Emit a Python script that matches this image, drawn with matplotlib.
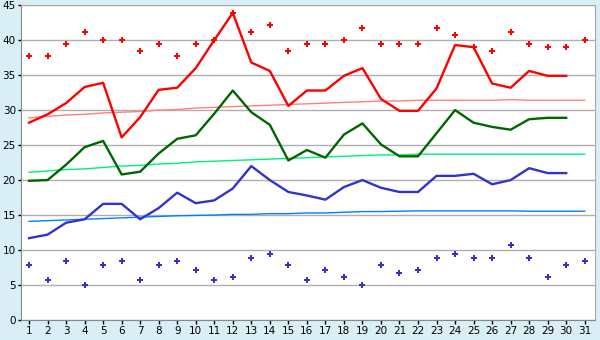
import numpy as np
import matplotlib
matplotlib.use("Agg")
import matplotlib.pyplot as plt

days = list(range(1, 32))

# daily max / mean / min (30 days observed)
t_max = [28.2, 29.4, 31.0, 33.3, 33.9, 26.1, 29.0, 32.9, 33.2, 36.0,
         40.0, 43.9, 36.8, 35.6, 30.6, 32.8, 32.8, 34.9, 36.0, 31.6,
         29.9, 29.9, 33.1, 39.3, 39.0, 33.8, 33.2, 35.6, 34.9, 34.9]
t_mean = [19.9, 20.0, 22.2, 24.7, 25.6, 20.8, 21.2, 23.8, 25.9, 26.4,
          29.5, 32.8, 29.7, 27.9, 22.8, 24.3, 23.2, 26.5, 28.1, 25.1,
          23.4, 23.4, 26.7, 30.0, 28.2, 27.6, 27.2, 28.7, 28.9, 28.9]
t_min = [11.7, 12.2, 13.9, 14.4, 16.6, 16.6, 14.4, 16.0, 18.2, 16.7,
         17.1, 18.8, 22.0, 20.0, 18.3, 17.8, 17.2, 19.0, 20.0, 18.9,
         18.3, 18.3, 20.6, 20.6, 20.9, 19.4, 20.0, 21.7, 21.0, 21.0]

# record values
rec_max = [37.8, 37.8, 39.4, 41.1, 40.0, 40.0, 38.4, 39.4, 37.8, 39.4,
           40.0, 43.9, 41.1, 42.2, 38.4, 39.4, 39.4, 40.0, 41.7, 39.4,
           39.4, 39.4, 41.7, 40.7, 39.0, 38.4, 41.1, 39.4, 39.0, 39.0, 40.0]
rec_min = [7.8, 5.7, 8.4, 5.0, 7.8, 8.4, 5.7, 7.8, 8.4, 7.2,
           5.7, 6.1, 8.9, 9.4, 7.8, 5.7, 7.2, 6.1, 5.0, 7.8,
           6.7, 7.2, 8.9, 9.4, 8.9, 8.9, 10.7, 8.9, 6.1, 7.8, 8.4]

# normals
norm_max = [28.9, 29.1, 29.3, 29.4, 29.6, 29.7, 29.8, 30.0, 30.1, 30.3,
            30.4, 30.5, 30.6, 30.7, 30.8, 30.9, 31.0, 31.1, 31.2, 31.3,
            31.3, 31.4, 31.4, 31.4, 31.4, 31.4, 31.5, 31.4, 31.4, 31.4, 31.4]
norm_mean = [21.1, 21.3, 21.5, 21.6, 21.8, 22.0, 22.1, 22.3, 22.4, 22.6,
             22.7, 22.8, 22.9, 23.0, 23.1, 23.2, 23.3, 23.4, 23.5, 23.6,
             23.6, 23.7, 23.7, 23.7, 23.7, 23.7, 23.7, 23.7, 23.7, 23.7, 23.7]
norm_min = [14.1, 14.2, 14.3, 14.4, 14.5, 14.6, 14.7, 14.8, 14.9, 14.95,
            15.0, 15.1, 15.1, 15.2, 15.2, 15.3, 15.3, 15.4, 15.5, 15.5,
            15.55, 15.6, 15.6, 15.6, 15.6, 15.6, 15.6, 15.55, 15.55, 15.55, 15.55]

bg = '#d9eef6'
fig = plt.figure(figsize=(6, 3.4), dpi=100, facecolor=bg)
ax = fig.add_axes([0.0345, 0.0588, 0.957, 0.926])
ax.set_facecolor('white')

obs = days[:len(t_max)]
ax.plot(days, norm_max, color='#ff8080', lw=1, zorder=2)
ax.plot(days, norm_mean, color='#00ee80', lw=1, zorder=2)
ax.plot(days, norm_min, color='#0080ff', lw=1, zorder=2)
ax.plot(obs, t_max, color='#ff0000', lw=1.7, zorder=3)
ax.plot(obs, t_mean, color='#006600', lw=1.7, zorder=3)
ax.plot(obs, t_min, color='#3333cc', lw=1.7, zorder=3)
ax.plot(days, rec_max, 'P', color='#ff0000', ms=4.5, mew=0, zorder=4)
ax.plot(days, rec_min, 'P', color='#3333cc', ms=4.5, mew=0, zorder=4)

ax.set_xlim(0.55, 31.55)
ax.set_ylim(0, 45)
ax.set_xticks(days)
ax.set_yticks(range(0, 46, 5))
ax.yaxis.grid(True, color='#b0b0b0', lw=1)
ax.set_axisbelow(True)
for s in ax.spines.values():
    s.set_color('#a8a8a8')
ax.spines['left'].set_color('#888888')
ax.spines['bottom'].set_color('#888888')
ax.tick_params(labelsize=7.5, length=3, width=1, color='#000000', pad=1.5)
ax.tick_params(axis='y', length=2.5, pad=1)

fig.savefig('out.png', dpi=100, facecolor=bg)
